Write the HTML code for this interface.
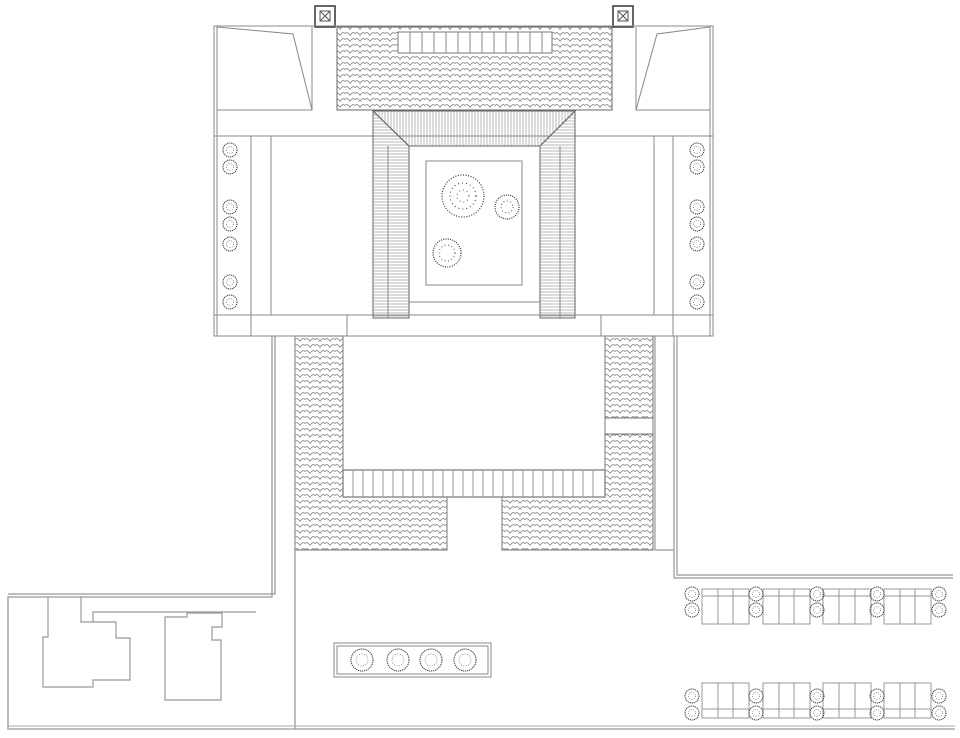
<!DOCTYPE html>
<html><head><meta charset="utf-8"><style>html,body{margin:0;padding:0;background:#fff}svg{display:block}</style></head>
<body>
<svg width="960" height="738" viewBox="0 0 960 738" xmlns="http://www.w3.org/2000/svg">
<defs>
<pattern id="tile" width="10" height="6" patternUnits="userSpaceOnUse">
<path d="M0 5.5 Q2.5 1 5 3.5 Q7.5 1 10 5.5" fill="none" stroke="#777" stroke-width="0.7"/>
</pattern>
<pattern id="vs" width="3" height="10" patternUnits="userSpaceOnUse"><line x1="1" y1="0" x2="1" y2="10" stroke="#888" stroke-width="0.6"/></pattern>
<pattern id="hs" width="10" height="3" patternUnits="userSpaceOnUse"><line x1="0" y1="1" x2="10" y2="1" stroke="#888" stroke-width="0.6"/></pattern>
<g id="tr"><circle r="7" fill="none" stroke="#333" stroke-width="1" stroke-dasharray="1.2 0.8"/><circle r="3.5" fill="none" stroke="#666" stroke-width="0.7" stroke-dasharray="1 1.5"/></g>
<g id="trb"><circle r="11" fill="none" stroke="#333" stroke-width="1" stroke-dasharray="1.2 0.8"/><circle r="6" fill="none" stroke="#666" stroke-width="0.7" stroke-dasharray="1 1.5"/></g>
</defs>
<g fill="none" stroke="#888" stroke-width="1">
<rect x="315" y="6" width="20" height="21" stroke="#333" stroke-width="1.5"/>
<rect x="320" y="11" width="10" height="10" stroke="#555"/><path d="M320 11 L330 21 M330 11 L320 21" stroke="#555"/>
<rect x="613" y="6" width="20" height="21" stroke="#333" stroke-width="1.5"/>
<rect x="618" y="11" width="10" height="10" stroke="#555"/><path d="M618 11 L628 21 M628 11 L618 21" stroke="#555"/>
<rect x="214" y="26" width="499" height="310"/>
<line x1="217" y1="26" x2="217" y2="336"/><line x1="710" y1="26" x2="710" y2="336"/>
<path d="M217 110 L312 110 L312 27 M217 27 L293 34 L312 110"/>
<path d="M710 110 L636 110 L636 27 M710 27 L657 34 L636 110"/>
<rect x="337" y="27" width="275" height="83" fill="url(#tile)" stroke="#666"/>
<rect x="398" y="32" width="154" height="21" fill="#fff" stroke="#777"/>
<path d="M410 32v21M422 32v21M434 32v21M446 32v21M458 32v21M470 32v21M482 32v21M494 32v21M506 32v21M518 32v21M530 32v21M542 32v21" stroke="#888"/>
<line x1="214" y1="136" x2="713" y2="136"/>
<line x1="251" y1="136" x2="251" y2="336"/><line x1="673" y1="136" x2="673" y2="336"/>
<rect x="271" y="136" width="102" height="179"/>
<rect x="575" y="136" width="79" height="179"/>
<polygon points="373,111 575,111 540,146 409,146" fill="url(#vs)" stroke="#666"/>
<polygon points="373,111 409,146 409,318 373,318" fill="url(#hs)" stroke="#666"/>
<polygon points="575,111 540,146 540,318 575,318" fill="url(#hs)" stroke="#666"/>
<line x1="388" y1="146" x2="388" y2="318" stroke="#888"/><line x1="560" y1="146" x2="560" y2="318" stroke="#888"/>
<rect x="426" y="161" width="96" height="124"/>
<line x1="409" y1="302" x2="540" y2="302"/>
<path d="M347 315v21M601 315v21M214 315h499"/>
<g stroke="none">
<use href="#tr" x="230" y="150"/><use href="#tr" x="230" y="167"/><use href="#tr" x="230" y="207"/><use href="#tr" x="230" y="224"/><use href="#tr" x="230" y="244"/><use href="#tr" x="230" y="282"/><use href="#tr" x="230" y="302"/>
<use href="#tr" x="697" y="150"/><use href="#tr" x="697" y="167"/><use href="#tr" x="697" y="207"/><use href="#tr" x="697" y="224"/><use href="#tr" x="697" y="244"/><use href="#tr" x="697" y="282"/><use href="#tr" x="697" y="302"/>
</g>
<circle cx="463" cy="196" r="21" stroke="#333" stroke-width="1.2" stroke-dasharray="1 1.6"/><circle cx="463" cy="196" r="13" stroke="#444" stroke-width="1.1" stroke-dasharray="1 3"/><circle cx="463" cy="196" r="6" stroke="#555" stroke-dasharray="1 3"/>
<circle cx="507" cy="207" r="12" stroke="#333" stroke-width="1.2" stroke-dasharray="1 1.2"/><circle cx="507" cy="207" r="6" stroke="#555" stroke-dasharray="1 2.5"/>
<circle cx="447" cy="253" r="14" stroke="#333" stroke-width="1.2" stroke-dasharray="1 1.3"/><circle cx="447" cy="253" r="8" stroke="#555" stroke-dasharray="1 2.5"/>
<polygon points="295,336 343,336 343,497 447,497 447,550 295,550" fill="url(#tile)" stroke="#777"/>
<polygon points="605,336 653,336 653,550 502,550 502,497 605,497" fill="url(#tile)" stroke="#777"/>
<rect x="605" y="418" width="48" height="16" fill="#fff" stroke="#777"/>
<rect x="343" y="470" width="262" height="27" fill="#fff" stroke="#888" stroke-width="1.4"/>
<path d="M353 470v27M363 470v27M373 470v27M383 470v27M393 470v27M403 470v27M413 470v27M423 470v27M433 470v27M443 470v27M453 470v27M463 470v27M473 470v27M483 470v27M493 470v27M503 470v27M513 470v27M523 470v27M533 470v27M543 470v27M553 470v27M563 470v27M573 470v27M583 470v27M593 470v27" stroke="#999"/>
<path d="M295 336 V729 M272 336 V597 H8 V729 H955 M275 336 V594 H8" stroke="#999" stroke-width="1.3"/>
<path d="M655 336 V550 H674 M674 336 V578 H953 M677 336 V575 H953" stroke="#999" stroke-width="1.2"/>
<line x1="8" y1="726" x2="955" y2="726" stroke="#aaa"/>
<path d="M48 597 V637 H43 V687 H93 V680 H130 V638 H116 V622 H93 V612 H256 M81 597 V622 H93" stroke="#999" stroke-width="1.2"/>
<path d="M165 617 H187 V613 H222 V627 H212 V640 H221 V700 H165 Z" stroke="#999" stroke-width="1.2"/>
<rect x="334" y="643" width="157" height="34"/><rect x="337" y="646" width="151" height="28"/>
<use href="#trb" x="362" y="660" stroke="none"/><use href="#trb" x="398" y="660" stroke="none"/><use href="#trb" x="431" y="660" stroke="none"/><use href="#trb" x="465" y="660" stroke="none"/>
<g stroke="#999">
<rect x="702" y="589" width="47" height="35"/><path d="M718 589v35M733 589v35M702 596h47"/>
<rect x="763" y="589" width="47" height="35"/><path d="M779 589v35M794 589v35M763 596h47"/>
<rect x="823" y="589" width="48" height="35"/><path d="M839 589v35M855 589v35M823 596h48"/>
<rect x="884" y="589" width="47" height="35"/><path d="M900 589v35M915 589v35M884 596h47"/>
<rect x="702" y="683" width="47" height="35"/><path d="M718 683v35M733 683v35M702 709h47"/>
<rect x="763" y="683" width="47" height="35"/><path d="M779 683v35M794 683v35M763 709h47"/>
<rect x="823" y="683" width="48" height="35"/><path d="M839 683v35M855 683v35M823 709h48"/>
<rect x="884" y="683" width="47" height="35"/><path d="M900 683v35M915 683v35M884 709h47"/>
</g>
<g stroke="none">
<use href="#tr" x="692" y="594"/><use href="#tr" x="692" y="610"/><use href="#tr" x="756" y="594"/><use href="#tr" x="756" y="610"/><use href="#tr" x="817" y="594"/><use href="#tr" x="817" y="610"/><use href="#tr" x="877" y="594"/><use href="#tr" x="877" y="610"/><use href="#tr" x="939" y="594"/><use href="#tr" x="939" y="610"/>
<use href="#tr" x="692" y="696"/><use href="#tr" x="692" y="713"/><use href="#tr" x="756" y="696"/><use href="#tr" x="756" y="713"/><use href="#tr" x="817" y="696"/><use href="#tr" x="817" y="713"/><use href="#tr" x="877" y="696"/><use href="#tr" x="877" y="713"/><use href="#tr" x="939" y="696"/><use href="#tr" x="939" y="713"/>
</g>
</g>
</svg>
</body></html>
